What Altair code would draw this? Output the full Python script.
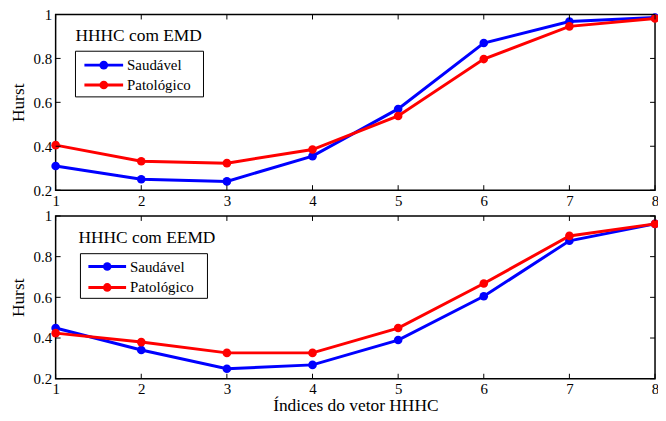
import altair as alt
import pandas as pd

indices = [1, 2, 3, 4, 5, 6, 7, 8]
emd_saudavel = [0.310, 0.250, 0.240, 0.355, 0.570, 0.870, 0.968, 0.986]
emd_patologico = [0.405, 0.332, 0.323, 0.385, 0.538, 0.797, 0.946, 0.982]
eemd_saudavel = [0.449, 0.341, 0.249, 0.268, 0.390, 0.605, 0.878, 0.961]
eemd_patologico = [0.424, 0.380, 0.327, 0.327, 0.449, 0.668, 0.902, 0.961]

series_names = ["Saudável", "Patológico"]
series_colors = ["#0000ff", "#ff0000"]
panel_titles = ["HHHC com EMD", "HHHC com EEMD"]
x_ticks = [1, 2, 3, 4, 5, 6, 7, 8]
y_ticks = [0.2, 0.4, 0.6, 0.8, 1.0]
x_title = "Índices do vetor HHHC"
y_title = "Hurst"

FONT = "Liberation Serif"
W = 604
TICK = 5
LW = 3
one = pd.DataFrame({"a": [0]})


def panel(title, saud, pato, H, show_xtitle, lg):
    df = pd.DataFrame({
        "idx": indices * 2,
        "hurst": saud + pato,
        "serie": [series_names[0]] * len(indices) + [series_names[1]] * len(indices),
    })
    xs = alt.Scale(domain=[1, 8], nice=False, zero=False)
    ys = alt.Scale(domain=[0.2, 1], nice=False, zero=False)
    xaxis = alt.Axis(values=x_ticks, format="d", labelFlush=False, labelPadding=3,
                     title=x_title if show_xtitle else None, titlePadding=0)
    yaxis = alt.Axis(values=y_ticks, format=".1~f", labelFlush=False, labelPadding=4,
                     title=y_title, titlePadding=6)
    X = alt.X("idx:Q", scale=xs, axis=xaxis)
    Y = alt.Y("hurst:Q", scale=ys, axis=yaxis)

    layers = []
    for name, col in zip(series_names, series_colors):
        base = alt.Chart(df).transform_filter(alt.datum.serie == name)
        layers.append(base.mark_line(color=col, strokeWidth=LW).encode(x=X, y=Y))
        layers.append(base.mark_point(color=col, filled=True, size=75, opacity=1).encode(x=X, y=Y))

    xt = pd.DataFrame({"idx": x_ticks})
    yt = pd.DataFrame({"hurst": y_ticks})
    layers.append(alt.Chart(xt).mark_rule(color="black", strokeWidth=1).encode(
        x=X, y=alt.value(H), y2=alt.value(H - TICK)))
    layers.append(alt.Chart(xt).mark_rule(color="black", strokeWidth=1).encode(
        x=X, y=alt.value(0), y2=alt.value(TICK)))
    layers.append(alt.Chart(yt).mark_rule(color="black", strokeWidth=1).encode(
        y=Y, x=alt.value(0), x2=alt.value(TICK)))
    layers.append(alt.Chart(yt).mark_rule(color="black", strokeWidth=1).encode(
        y=Y, x=alt.value(W), x2=alt.value(W - TICK)))

    # panel title
    layers.append(alt.Chart(one).mark_text(align="left", baseline="alphabetic", font=FONT,
                                           fontSize=17.5, color="black").encode(
        x=alt.value(lg["tx"]), y=alt.value(lg["ty"]), text=alt.value(title)))
    # legend box
    layers.append(alt.Chart(one).mark_rect(fill="white", stroke="black", strokeWidth=1).encode(
        x=alt.value(lg["bx"]), x2=alt.value(lg["bx2"]), y=alt.value(lg["by"]), y2=alt.value(lg["by2"])))
    for i, (name, col) in enumerate(zip(series_names, series_colors)):
        yy = lg["ly"][i]
        layers.append(alt.Chart(one).mark_rule(color=col, strokeWidth=LW).encode(
            x=alt.value(lg["lx"]), x2=alt.value(lg["lx2"]), y=alt.value(yy)))
        layers.append(alt.Chart(one).mark_point(color=col, filled=True, size=75, opacity=1).encode(
            x=alt.value((lg["lx"] + lg["lx2"]) / 2), y=alt.value(yy)))
        layers.append(alt.Chart(one).mark_text(align="left", baseline="middle", font=FONT,
                                               fontSize=15, color="black").encode(
            x=alt.value(lg["txt"]), y=alt.value(yy), text=alt.value(name)))

    return alt.layer(*layers).properties(width=W, height=H)


top = panel(panel_titles[0], emd_saudavel, emd_patologico, 177, False,
            dict(tx=20, ty=27, bx=20, bx2=149, by=37, by2=83, lx=29, lx2=68, ly=[51, 71], txt=72))
bottom = panel(panel_titles[1], eemd_saudavel, eemd_patologico, 164, True,
               dict(tx=23, ty=27, bx=25, bx2=153, by=38, by2=83, lx=33, lx2=71, ly=[51, 72], txt=75))

chart = alt.vconcat(top, bottom, spacing=26, bounds="flush").properties(
    padding={"left": 0, "top": -3, "right": -4, "bottom": -2},
).configure_view(stroke="black", strokeWidth=1.5).configure_axis(
    labelFont=FONT, labelFontSize=15, labelColor="black",
    titleFont=FONT, titleFontSize=17.5, titleFontWeight="normal", titleColor="black",
    domain=False, ticks=False, tickSize=0, grid=False,
)

chart.save("out.html", embed_options={"renderer": "svg", "actions": False})
